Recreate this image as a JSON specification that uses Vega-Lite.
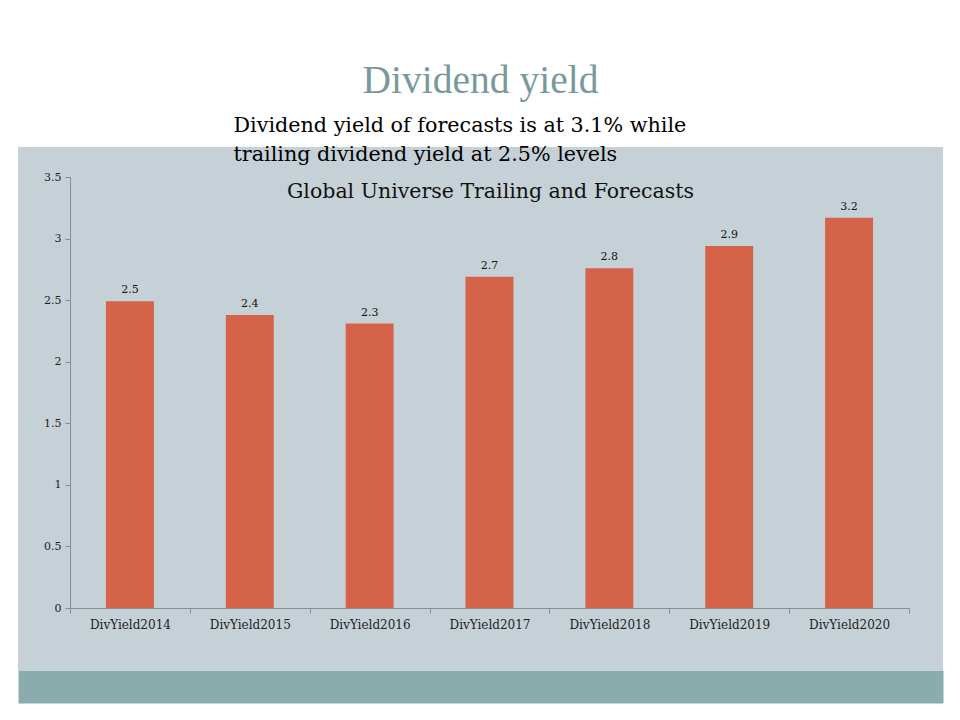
{
  "$schema": "https://vega.github.io/schema/vega-lite/v6.json",
  "width": 925,
  "height": 523,
  "autosize": {"type": "none"},
  "padding": {"left": 18, "top": 147, "right": 17, "bottom": 50},
  "background": "white",
  "title": {
    "text": "Dividend yield",
    "font": "Liberation Serif",
    "fontSize": 39.5,
    "fontWeight": "normal",
    "color": "#789a9b",
    "anchor": "middle",
    "frame": "group",
    "offset": 13
  },
  "config": {"view": {"fill": "#c6d1d7", "stroke": null}},
  "data": {
    "values": [
      {"category": "DivYield2014", "value": 2.49},
      {"category": "DivYield2015", "value": 2.38},
      {"category": "DivYield2016", "value": 2.31},
      {"category": "DivYield2017", "value": 2.69},
      {"category": "DivYield2018", "value": 2.76},
      {"category": "DivYield2019", "value": 2.94},
      {"category": "DivYield2020", "value": 3.17}
    ]
  },
  "resolve": {"scale": {"x": "independent"}, "axis": {"x": "independent"}},
  "layer": [
    {
      "mark": {"type": "bar", "color": "#d4634a", "width": {"band": 0.4}},
      "encoding": {
        "x": {
          "field": "category",
          "type": "nominal",
          "sort": null,
          "scale": {"range": [52, 891], "paddingInner": 0, "paddingOuter": 0},
          "axis": {
            "orient": "bottom",
            "offset": -62,
            "labelAngle": 0,
            "labelFont": "DejaVu Serif",
            "labelFontSize": 12,
            "labelColor": "#222222",
            "labelPadding": 6,
            "tickBand": "extent",
            "tickSize": 5,
            "tickColor": "#8a8f93",
            "domainColor": "#8a8f93",
            "title": "Dividend yield of forecasts is at 3.1% while",
            "titleX": 215,
            "titleY": -477,
            "titleAlign": "left",
            "titleAnchor": "start",
            "titleBaseline": "alphabetic",
            "titleFont": "DejaVu Serif",
            "titleFontSize": 20.7,
            "titleFontWeight": "normal",
            "titleColor": "#000000"
          }
        },
        "y": {
          "field": "value",
          "type": "quantitative",
          "scale": {"domain": [0, 3.5], "range": [461, 30], "nice": false, "zero": true},
          "axis": {
            "orient": "left",
            "offset": -52,
            "values": [0, 0.5, 1, 1.5, 2, 2.5, 3, 3.5],
            "format": "~g",
            "grid": false,
            "labelFont": "DejaVu Serif",
            "labelFontSize": 11,
            "labelColor": "#222222",
            "labelPadding": 4,
            "tickSize": 5,
            "tickColor": "#8a8f93",
            "domainColor": "#8a8f93",
            "title": "Global Universe Trailing and Forecasts",
            "titleAngle": 0,
            "titleX": 420,
            "titleY": 50,
            "titleAlign": "center",
            "titleAnchor": "middle",
            "titleBaseline": "alphabetic",
            "titleFont": "DejaVu Serif",
            "titleFontSize": 20.5,
            "titleFontWeight": "normal",
            "titleColor": "#111111"
          }
        }
      }
    },
    {
      "mark": {"type": "text", "font": "DejaVu Serif", "fontSize": 11, "color": "#111111", "baseline": "alphabetic", "dy": -8},
      "encoding": {
        "x": {
          "field": "category",
          "type": "nominal",
          "sort": null,
          "scale": {"type": "band", "paddingInner": 0, "paddingOuter": 0.35875, "align": 0.60465},
          "axis": {
            "orient": "bottom",
            "offset": 16.5,
            "domainWidth": 33,
            "domainColor": "#8aacad",
            "ticks": false,
            "labels": false,
            "title": "trailing  dividend yield at 2.5% levels",
            "titleX": 215,
            "titleY": -526.5,
            "titleAlign": "left",
            "titleAnchor": "start",
            "titleBaseline": "alphabetic",
            "titleFont": "DejaVu Serif",
            "titleFontSize": 20.7,
            "titleFontWeight": "normal",
            "titleColor": "#000000"
          }
        },
        "y": {"field": "value", "type": "quantitative"},
        "text": {"field": "value", "type": "quantitative", "format": ".1f"}
      }
    }
  ]
}
